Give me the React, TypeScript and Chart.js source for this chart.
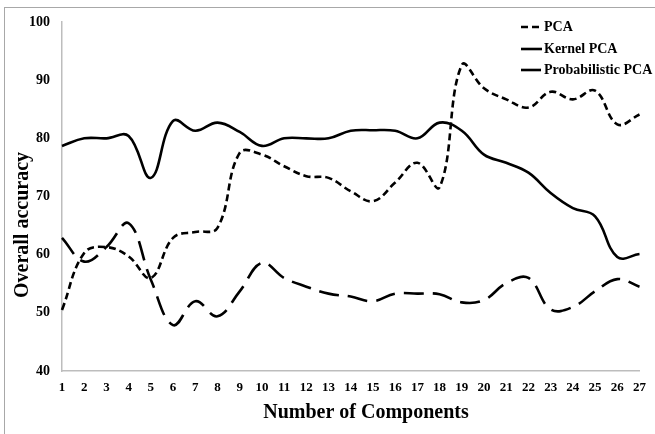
import React, { useEffect, useRef } from 'react';
import { Chart, registerables } from 'chart.js';

Chart.register(...registerables);

const categories = ['1','2','3','4','5','6','7','8','9','10','11','12','13','14','15','16','17','18','19','20','21','22','23','24','25','26','27'];

const pcaValues = [50.5, 60.3, 61.3, 59.7, 56.0, 62.9, 63.9, 64.6, 77.5, 77.2, 75.2, 73.5, 73.2, 70.9, 69.2, 72.4, 75.8, 71.6, 92.6, 88.6, 86.7, 85.3, 88.0, 86.7, 88.2, 82.4, 84.1];
const kernelValues = [78.7, 80.0, 80.0, 80.4, 73.2, 83.0, 81.3, 82.7, 81.1, 78.7, 80.0, 80.0, 80.0, 81.3, 81.4, 81.3, 80.0, 82.7, 81.3, 77.2, 75.8, 74.1, 70.6, 68.0, 66.6, 59.6, 60.1];
const probValues = [62.9, 58.8, 61.3, 65.4, 55.7, 47.9, 52.0, 49.4, 53.7, 58.6, 56.0, 54.5, 53.3, 52.8, 52.0, 53.3, 53.3, 53.2, 51.8, 52.2, 55.1, 56.0, 50.6, 51.0, 53.7, 55.8, 54.5];

const seriesNames = ['PCA', 'Kernel PCA', 'Probabilistic PCA'];
const yTitle = 'Overall accuracy';
const xTitle = 'Number of Components';

const SERIF = '"Liberation Serif", "Times New Roman", serif';

const framePlugin = {
  id: 'frame',
  beforeDraw(chart: any) {
    const ctx = chart.ctx;
    ctx.save();
    ctx.fillStyle = '#ffffff';
    ctx.fillRect(0, 0, chart.width, chart.height);
    ctx.strokeStyle = '#a8a8a8';
    ctx.lineWidth = 1;
    ctx.strokeRect(4.5, 7.5, chart.width + 20, chart.height + 20);
    ctx.restore();
  },
};

const legendPlugin = {
  id: 'innerLegend',
  afterDraw(chart: any) {
    const ctx = chart.ctx;
    const rows = [27, 49, 70];
    ctx.save();
    chart.data.datasets.forEach((ds: any, i: number) => {
      const y = rows[i];
      ctx.beginPath();
      ctx.setLineDash(ds.borderDash || []);
      ctx.lineWidth = ds.borderWidth;
      ctx.strokeStyle = ds.borderColor;
      ctx.moveTo(521, y);
      ctx.lineTo(542, y);
      ctx.stroke();
      ctx.setLineDash([]);
      ctx.fillStyle = '#000';
      ctx.font = `bold 14px ${SERIF}`;
      ctx.textAlign = 'left';
      ctx.textBaseline = 'middle';
      ctx.fillText(ds.label, 544, y);
    });
    ctx.restore();
  },
};

const titlePlugin = {
  id: 'axisTitles',
  afterDraw(chart: any) {
    const ctx = chart.ctx;
    ctx.save();
    ctx.fillStyle = '#000';
    ctx.font = `bold 20px ${SERIF}`;
    ctx.textAlign = 'center';
    ctx.textBaseline = 'middle';
    ctx.fillText(xTitle, 366, 413);
    ctx.translate(23, 225);
    ctx.rotate(-Math.PI / 2);
    ctx.fillText(yTitle, 0, 0);
    ctx.restore();
  },
};

export default function App() {
  const ref = useRef<HTMLCanvasElement>(null);

  useEffect(() => {
    document.body.style.margin = '0';
    const canvas = ref.current;
    if (!canvas) return;
    const chart = new Chart(canvas, {
      type: 'line',
      data: {
        labels: categories,
        datasets: [
          {
            label: seriesNames[0],
            data: pcaValues,
            borderColor: '#000',
            borderWidth: 2.6,
            borderDash: [7, 4],
            pointRadius: 0,
            tension: 0.4,
            fill: false,
            clip: false,
          },
          {
            label: seriesNames[1],
            data: kernelValues,
            borderColor: '#000',
            borderWidth: 2.6,
            pointRadius: 0,
            tension: 0.4,
            fill: false,
            clip: false,
          },
          {
            label: seriesNames[2],
            data: probValues,
            borderColor: '#000',
            borderWidth: 2.6,
            borderDash: [20, 9],
            pointRadius: 0,
            tension: 0.4,
            fill: false,
            clip: false,
          },
        ],
      } as any,
      options: {
        responsive: false,
        animation: false,
        layout: { padding: { left: 0, right: 7, top: 22, bottom: 0 } },
        plugins: {
          legend: { display: false },
          tooltip: { enabled: false },
        },
        scales: {
          x: {
            grid: { display: false, drawTicks: false },
            border: { display: true, color: '#bdbdbd', width: 1.5 },
            ticks: {
              color: '#000',
              font: { family: SERIF, size: 13, weight: 'bold' },
              padding: 9,
              maxRotation: 0,
              autoSkip: false,
            },
            afterFit: (s: any) => { s.height = 63; },
          },
          y: {
            min: 40,
            max: 100,
            grid: { display: false, drawTicks: false },
            border: { display: true, color: '#bdbdbd', width: 1.5 },
            ticks: {
              stepSize: 10,
              color: '#000',
              font: { family: SERIF, size: 14, weight: 'bold' },
              padding: 12,
            },
            afterFit: (s: any) => { s.width = 62; },
          },
        },
      } as any,
      plugins: [framePlugin, legendPlugin, titlePlugin],
    });
    return () => chart.destroy();
  }, []);

  return <canvas ref={ref} width={655} height={434} style={{ display: 'block' }} />;
}
